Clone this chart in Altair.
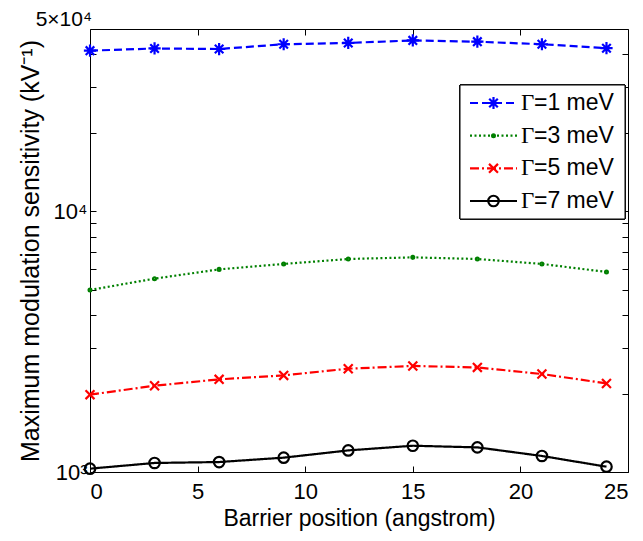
import altair as alt
import pandas as pd

# ---- data ----
positions = [0, 3, 6, 9, 12, 15, 18, 21, 24]
gamma1 = [41300, 42100, 41900, 43700, 44200, 45200, 44700, 43700, 42200]
gamma3 = [4990, 5515, 5985, 6280, 6560, 6655, 6560, 6280, 5850]
gamma5 = [1980, 2143, 2266, 2347, 2490, 2551, 2518, 2376, 2186]
gamma7 = [1030, 1083, 1092, 1135, 1210, 1261, 1243, 1152, 1048]

series_names = ["G1", "G3", "G5", "G7"]
legend_labels = ["=1 meV", "=3 meV", "=5 meV", "=7 meV"]
series_values = [gamma1, gamma3, gamma5, gamma7]

x_ticks = [0, 5, 10, 15, 20, 25]
y_ticks = [1000, 2000, 3000, 4000, 5000, 6000, 7000, 8000, 9000,
           10000, 20000, 30000, 40000]

colors = ["#0000FF", "#008000", "#FF0000", "#000000"]
dashes = [[8, 4], [2, 2.5], [9, 3, 2, 3], [1, 0]]
asterisk = "M-1,0L1,0M0,-1L0,1M-0.7,-0.7L0.7,0.7M-0.7,0.7L0.7,-0.7"
xcross = "M-1,-1L1,1M-1,1L1,-1"
shapes = [asterisk, "circle", xcross, "circle"]
sizes = [150, 8, 80, 110]

rows = []
for name, vals in zip(series_names, series_values):
    for p, v in zip(positions, vals):
        rows.append({"name": name, "pos": p, "val": v})
df = pd.DataFrame(rows)
leg = pd.DataFrame({"name": series_names, "label": legend_labels})

FONT = "Liberation Sans"

xscale = alt.Scale(domain=[0, 25], nice=False, zero=False)
yscale = alt.Scale(type="log", domain=[1000, 50000], nice=False)

color = alt.Color("name:N", scale=alt.Scale(domain=series_names, range=colors), legend=None)
dash = alt.StrokeDash("name:N", scale=alt.Scale(domain=series_names, range=dashes), legend=None)
shape = alt.Shape("name:N", scale=alt.Scale(domain=series_names, range=shapes), legend=None)
size = alt.Size("name:N", scale=alt.Scale(type="ordinal", domain=series_names, range=sizes),
                legend=None)

label_expr = "datum.value == 1000 ? '10³' : datum.value == 10000 ? '10⁴' : ''"

bottom_axis = alt.Axis(values=x_ticks, orient="bottom", title="Barrier position (angstrom)",
                       domain=False, grid=False, tickSize=6, offset=-6, labelPadding=9,
                       titlePadding=5, tickColor="black", labelColor="black")
top_axis = alt.Axis(values=x_ticks, orient="top", title=None, labels=False,
                    domain=False, grid=False, tickSize=6, offset=-6, tickColor="black")
left_axis = alt.Axis(values=y_ticks, orient="left",
                     title="Maximum modulation sensitivity (kV⁻¹)",
                     labelExpr=label_expr, domain=False, grid=False, tickSize=6,
                     offset=-6, labelPadding=3, titlePadding=10, tickColor="black",
                     labelColor="black")
right_axis = alt.Axis(values=y_ticks, orient="right", title=None, labels=False,
                      domain=False, grid=False, tickSize=6, offset=-6, tickColor="black")

lines = alt.Chart(df).mark_line(strokeWidth=2.2).encode(
    x=alt.X("pos:Q", scale=xscale, axis=bottom_axis),
    y=alt.Y("val:Q", scale=yscale, axis=left_axis),
    color=color, strokeDash=dash, detail="name:N",
)

points = alt.Chart(df).mark_point(filled=False, strokeWidth=2.2, opacity=1).encode(
    x=alt.X("pos:Q", scale=xscale, axis=top_axis),
    y=alt.Y("val:Q", scale=yscale, axis=right_axis),
    color=color, shape=shape, size=size,
)

top_label = alt.Chart(pd.DataFrame({"pos": [0], "val": [50000]})).mark_text(
    text="5×10⁴", align="right", baseline="alphabetic", dx=2, dy=-3,
    font=FONT, fontSize=21, color="black",
).encode(
    x=alt.X("pos:Q", scale=xscale, axis=None),
    y=alt.Y("val:Q", scale=yscale, axis=None),
)

leg_y = alt.Y("name:N", scale=alt.Scale(type="point", domain=series_names,
                                        range=[74, 172], padding=0), axis=None)

leg_box = alt.Chart(leg).mark_rect(fill="white", stroke="black", strokeWidth=1).encode(
    x=alt.value(370), x2=alt.value(535), y=alt.value(56), y2=alt.value(190),
)
leg_lines = alt.Chart(leg).mark_rule(strokeWidth=2.2).encode(
    x=alt.value(380), x2=alt.value(427), y=leg_y, color=color, strokeDash=dash,
)
leg_points = alt.Chart(leg).mark_point(filled=False, strokeWidth=2.2, opacity=1).encode(
    x=alt.value(403.5), y=leg_y, color=color, shape=shape, size=size,
)
leg_gamma = alt.Chart(leg).mark_text(
    text="Γ", align="left", baseline="middle", font="Liberation Serif",
    fontSize=23, color="black",
).encode(x=alt.value(431), y=leg_y)
leg_text = alt.Chart(leg).mark_text(
    align="left", baseline="middle", font=FONT, fontSize=23, color="black",
).encode(x=alt.value(444), y=leg_y, text="label:N")

chart = alt.layer(
    lines, points, top_label, leg_box, leg_lines, leg_points, leg_gamma, leg_text
).resolve_scale(y="independent").resolve_axis(x="independent", y="independent").properties(
    width=538, height=443,
    autosize=alt.AutoSizeParams(type="none"),
    padding={"left": 90, "top": 29, "right": 15, "bottom": 69},
    background="white",
).configure_view(
    stroke="black", strokeWidth=1,
).configure_axis(
    labelFont=FONT, titleFont=FONT, labelFontSize=22, titleFontSize=23,
    titleFontWeight="normal", titleColor="black",
).configure_axisLeft(titleFontSize=25)

chart.save("out.html", embed_options={"renderer": "svg", "actions": False})
